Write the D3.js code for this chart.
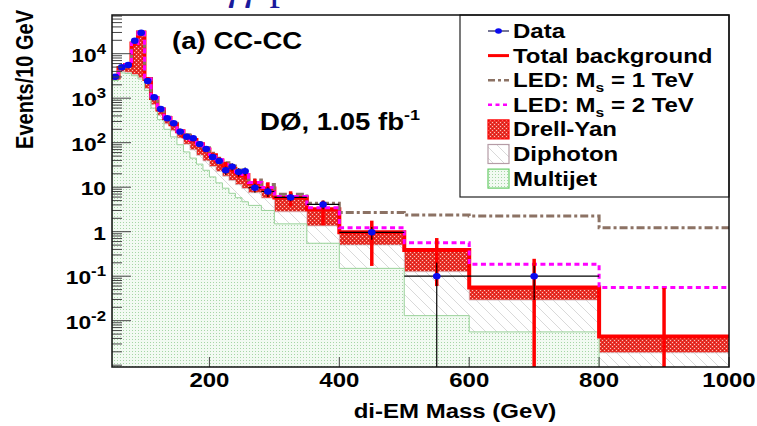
<!DOCTYPE html>
<html>
<head>
<meta charset="utf-8">
<script src="https://cdn.jsdelivr.net/npm/d3@7"></script>
<style>
  body { margin: 0; background: #fff; }
  text { font-family: "Liberation Sans", Arial, Helvetica, sans-serif; font-weight: bold; }
</style>
</head>
<body>
<script>
// bin edges in GeV (10 GeV bins up to 260, then wider)
var binEdges = [50,60,70,80,90,100,110,120,130,140,150,160,170,180,190,200,210,220,230,240,250,260,280,300,350,400,500,600,800,1000];

// events / 10 GeV
var dataVals = [3040,4950,5570,19600,29600,2440,1050,572,353,273,177,136,126,93,72,48,39,24,29,22,23,9.7,8.0,5.9,4.1,0.97,0.1,0.1,0];
var multijet = [2500,3700,3600,3200,2700,1500,600,330,200,135,90,62,45,33,24,17,12.5,9.5,7.3,5.8,4.7,3.9,3.0,1.5,0.55,0.15,0.013,0.0056,0];
var diphoton = [300,250,220,200,170,140,110,85,65,50,38,30,24,19,15,12,10,8.2,6.8,5.6,4.6,3.6,2.7,1.3,0.8,0.35,0.113,0.0234,0.0019];
var drellYan = [100,850,1780,13600,27130,1060,300,145,95,75,52,48,46,40,31,23,17.5,13.3,11.9,9.6,9.5,5.0,3.7,3.1,1.85,0.47,0.264,0.027,0.0025];
var bgErr    = [300,500,600,1800,3000,300,110,60,40,30,22,18,15,12,10,8,7,6,5,4.5,4,3,3.5,2.2,1.8,0.8,0.33,0.19,0.05];
var led1     = [2950,4850,5700,17200,30300,2750,1030,580,375,275,192,150,124,100,77,58,45,35.5,30,24.5,21.5,14.5,11.5,6.9,4.35,2.7,2.37,2.25,1.23];
var led2     = [2910,4820,5620,17050,30100,2710,1005,563,362,262,182,142,117,94,72,54,41.5,32.5,27.5,22.3,19.3,12.8,9.8,6.2,3.45,1.23,0.566,0.185,0.056];

var xTicks = [200,400,600,800,1000];
var yTickVals = [1e4,1e3,100,10,1,0.1,0.01];
var yTickBase = ["10","10","10","10","1","10","10"];
var yTickExp  = ["4","3","2","","","-1","-2"];

var legendLabels = ["Data","Total background","LED: M_s = 1 TeV","LED: M_s = 2 TeV","Drell-Yan","Diphoton","Multijet"];
var legendKinds  = ["data","total","led1","led2","dy","dip","mj"];

var width = 757, height = 426;
var margin = {left: 112, top: 15, right: 28, bottom: 59};
var plotW = width - margin.left - margin.right;
var plotH = height - margin.top - margin.bottom;
var sx = 1.2; // the picture is stretched sideways

var x = d3.scaleLinear().domain([50, 1000]).range([margin.left, margin.left + plotW]);
var y = d3.scaleLog().domain([1e-3, 1e5]).range([365.2, 9.2]);
var yBottom = margin.top + plotH;

function yv(v) { return v > 0 ? y(v) : yBottom + 20; }

var svg = d3.select("body").append("svg")
  .attr("width", width)
  .attr("height", height);

var defs = svg.append("defs");
defs.append("clipPath").attr("id", "plotclip")
  .append("rect").attr("x", margin.left).attr("y", margin.top).attr("width", plotW).attr("height", plotH);

// fill patterns
var pMj = defs.append("pattern").attr("id", "pmj").attr("patternUnits", "userSpaceOnUse").attr("width", 3).attr("height", 3);
pMj.append("rect").attr("width", 3).attr("height", 3).attr("fill", "#f2faf2");
pMj.append("rect").attr("width", 1).attr("height", 1).attr("fill", "#a6d6a6");

var pDip = defs.append("pattern").attr("id", "pdip").attr("patternUnits", "userSpaceOnUse").attr("width", 11).attr("height", 11);
pDip.append("rect").attr("width", 11).attr("height", 11).attr("fill", "#fff");
pDip.append("path").attr("d", "M0,0L11,11M-1,10L1,12M10,-1L12,1").attr("stroke", "#cfcfcf").attr("stroke-width", 0.8);

var pDy = defs.append("pattern").attr("id", "pdy").attr("patternUnits", "userSpaceOnUse").attr("width", 4).attr("height", 4);
pDy.append("rect").attr("width", 4).attr("height", 4).attr("fill", "#ee3028");
pDy.append("rect").attr("x", 0).attr("y", 0).attr("width", 1).attr("height", 1).attr("fill", "#b42a22");
pDy.append("rect").attr("x", 2).attr("y", 2).attr("width", 1).attr("height", 1).attr("fill", "#b42a22");
pDy.append("rect").attr("x", 2).attr("y", 0).attr("width", 1).attr("height", 1).attr("fill", "#f8c4be");
pDy.append("rect").attr("x", 0).attr("y", 2).attr("width", 1).attr("height", 1).attr("fill", "#f8c4be");

// stacked sums
var cumM = [], cumMG = [], total = [];
multijet.forEach(function(m, i) {
  cumM.push(m);
  cumMG.push(m + diphoton[i]);
  total.push(m + diphoton[i] + drellYan[i]);
});

function stepArea(vals) {
  var p = "M" + x(binEdges[0]) + "," + (yBottom + 20);
  vals.forEach(function(v, i) {
    p += "L" + x(binEdges[i]) + "," + yv(v) + "L" + x(binEdges[i + 1]) + "," + yv(v);
  });
  return p + "L" + x(binEdges[binEdges.length - 1]) + "," + (yBottom + 20) + "Z";
}
function stepLine(vals) {
  var p = "";
  vals.forEach(function(v, i) {
    p += (i == 0 ? "M" : "L") + x(binEdges[i]) + "," + yv(v) + "L" + x(binEdges[i + 1]) + "," + yv(v);
  });
  return p;
}

var plot = svg.append("g").attr("clip-path", "url(#plotclip)");

plot.append("path").attr("d", stepArea(total)).attr("fill", "url(#pdy)").attr("stroke", "none");
plot.append("path").attr("d", stepArea(cumMG)).attr("fill", "url(#pdip)").attr("stroke", "#d2c4ca").attr("stroke-width", 0.8);
plot.append("path").attr("d", stepArea(cumM)).attr("fill", "url(#pmj)").attr("stroke", "#9ad29a").attr("stroke-width", 1);

plot.append("path").attr("d", stepLine(total)).attr("fill", "none").attr("stroke", "#ff0000").attr("stroke-width", 4);
plot.append("path").attr("d", stepLine(led1)).attr("fill", "none").attr("stroke", "#8c7264").attr("stroke-width", 3)
  .attr("stroke-dasharray", "8,3,3,3");
plot.append("path").attr("d", stepLine(led2)).attr("fill", "none").attr("stroke", "#ff00ff").attr("stroke-width", 3)
  .attr("stroke-dasharray", "5,3.5");

// background uncertainty bars
plot.selectAll(".bgerr").data(total).enter().append("line")
  .attr("class", "bgerr")
  .attr("x1", function(d, i) { return x((binEdges[i] + binEdges[i + 1]) / 2); })
  .attr("x2", function(d, i) { return x((binEdges[i] + binEdges[i + 1]) / 2); })
  .attr("y1", function(d, i) { return yv(d + bgErr[i]); })
  .attr("y2", function(d, i) { return yv(d - bgErr[i]); })
  .attr("stroke", "#ff0000").attr("stroke-width", 3.5);

// data with poisson errors
var pts = [];
dataVals.forEach(function(v, i) {
  if (v <= 0) return;
  var w = binEdges[i + 1] - binEdges[i];
  var n = v * w / 10;
  var e = Math.sqrt(n) * 10 / w;
  pts.push({lo: binEdges[i], hi: binEdges[i + 1], v: v, e: e});
});
var dg = plot.append("g");
dg.selectAll(".hbar").data(pts).enter().append("line")
  .attr("x1", function(d) { return x(d.lo); })
  .attr("x2", function(d) { return x(d.hi); })
  .attr("y1", function(d) { return y(d.v); })
  .attr("y2", function(d) { return y(d.v); })
  .attr("stroke", "#000").attr("stroke-width", 1.2);
dg.selectAll(".vbar").data(pts).enter().append("line")
  .attr("x1", function(d) { return x((d.lo + d.hi) / 2); })
  .attr("x2", function(d) { return x((d.lo + d.hi) / 2); })
  .attr("y1", function(d) { return yv(d.v + d.e); })
  .attr("y2", function(d) { return yv(d.v - d.e); })
  .attr("stroke", "#000").attr("stroke-width", 1.2);
dg.selectAll("ellipse").data(pts).enter().append("ellipse")
  .attr("cx", function(d) { return x((d.lo + d.hi) / 2); })
  .attr("cy", function(d) { return y(d.v); })
  .attr("rx", 3.8).attr("ry", 3.2)
  .attr("fill", "#0a0af0");

// axes ticks
var axg = svg.append("g");
var minor = y.ticks().filter(function(t) { return y(t) > margin.top && y(t) < yBottom; });
axg.selectAll(".ymin").data(minor).enter().append("line")
  .attr("x1", margin.left).attr("x2", function(d) { return yTickVals.indexOf(d) >= 0 ? margin.left + 19 : margin.left + 10; })
  .attr("y1", function(d) { return y(d); }).attr("y2", function(d) { return y(d); })
  .attr("stroke", "#444").attr("stroke-width", 1);

axg.selectAll(".xt").data(xTicks).enter().append("line")
  .attr("x1", function(d) { return x(d); }).attr("x2", function(d) { return x(d); })
  .attr("y1", yBottom).attr("y2", yBottom - 10)
  .attr("stroke", "#444").attr("stroke-width", 1);

axg.selectAll(".xl").data(xTicks).enter().append("text")
  .attr("transform", function(d) { return "translate(" + x(d) + ",387) scale(" + sx + ",1)"; })
  .attr("text-anchor", "middle").attr("font-size", 20).text(function(d) { return d; });

var yl = axg.selectAll(".yl").data(yTickVals).enter().append("text")
  .attr("transform", function(d) { return "translate(106," + (y(d) + 8) + ") scale(" + sx + ",1)"; })
  .attr("text-anchor", "end").attr("font-size", 19);
yl.append("tspan").text(function(d, i) { return yTickBase[i]; });
yl.append("tspan").attr("dy", -8).attr("font-size", 14).text(function(d, i) { return yTickExp[i]; });

// axis titles
svg.append("text")
  .attr("transform", "translate(33,10) scale(" + sx + ",1) rotate(-90)")
  .attr("text-anchor", "end").attr("font-size", 20).text("Events/10 GeV");
svg.append("text")
  .attr("transform", "translate(455,418) scale(" + sx + ",1)")
  .attr("text-anchor", "middle").attr("font-size", 20).text("di-EM Mass (GeV)");

// labels inside the plot
svg.append("text").attr("transform", "translate(172,49) scale(" + sx + ",1)")
  .attr("font-size", 23).text("(a) CC-CC");
var lum = svg.append("text").attr("transform", "translate(260,130) scale(" + sx + ",1)").attr("font-size", 23);
lum.append("tspan").text("DØ, 1.05 fb");
lum.append("tspan").attr("dy", -10).attr("font-size", 15).text("-1");

// cut-off slide title above the plot (only its descenders show, as in the picture)
var ttl = svg.append("text").attr("x", 226).attr("y", -1)
  .style("font-family", "'Liberation Serif', 'Times New Roman', serif").style("font-weight", "normal")
  .attr("font-size", 42).attr("fill", "#1a1a9c");
ttl.append("tspan").style("font-style", "italic").text("γγ");
ttl.append("tspan").text(" p");

// legend
var lg = svg.append("g");
lg.append("rect").attr("x", 460).attr("y", margin.top).attr("width", margin.left + plotW - 460).attr("height", 182)
  .attr("fill", "#fff").attr("stroke", "#222").attr("stroke-width", 1.2);

legendKinds.forEach(function(k, i) {
  var cy = 31 + i * 24.6;
  var g = lg.append("g");
  if (k == "data") {
    g.append("line").attr("x1", 488).attr("x2", 509).attr("y1", cy).attr("y2", cy).attr("stroke", "#1a1a50").attr("stroke-width", 1.2);
    g.append("ellipse").attr("cx", 498.5).attr("cy", cy).attr("rx", 3.4).attr("ry", 2.8).attr("fill", "#0a0af0");
  } else if (k == "total") {
    g.append("line").attr("x1", 488).attr("x2", 509).attr("y1", cy).attr("y2", cy).attr("stroke", "#ff0000").attr("stroke-width", 3);
  } else if (k == "led1") {
    g.append("line").attr("x1", 488).attr("x2", 509).attr("y1", cy).attr("y2", cy).attr("stroke", "#8c7264").attr("stroke-width", 2.5)
      .attr("stroke-dasharray", "7,3,3,3");
  } else if (k == "led2") {
    g.append("line").attr("x1", 488).attr("x2", 509).attr("y1", cy).attr("y2", cy).attr("stroke", "#ff00ff").attr("stroke-width", 2.5)
      .attr("stroke-dasharray", "4,3.5");
  } else {
    var fills = {dy: "url(#pdy)", dip: "url(#pdip)", mj: "url(#pmj)"};
    var strokes = {dy: "#ff0000", dip: "#b59ca6", mj: "#66cc66"};
    g.append("rect").attr("x", 488).attr("y", cy - 9.5).attr("width", 21).attr("height", 19)
      .attr("fill", fills[k]).attr("stroke", strokes[k]).attr("stroke-width", 1.2);
  }
  var parts = legendLabels[i].split("_s");
  var t = g.append("text").attr("transform", "translate(513," + (cy + 7) + ") scale(" + sx + ",1)").attr("font-size", 20);
  t.append("tspan").text(parts[0]);
  if (parts.length > 1) {
    t.append("tspan").attr("dy", 5).attr("font-size", 13).text("s");
    t.append("tspan").attr("dy", -5).text(parts[1]);
  }
});

// frame
svg.append("rect").attr("x", margin.left).attr("y", margin.top).attr("width", plotW).attr("height", plotH)
  .attr("fill", "none").attr("stroke", "#111").attr("stroke-width", 1.5);
</script>
</body>
</html>
